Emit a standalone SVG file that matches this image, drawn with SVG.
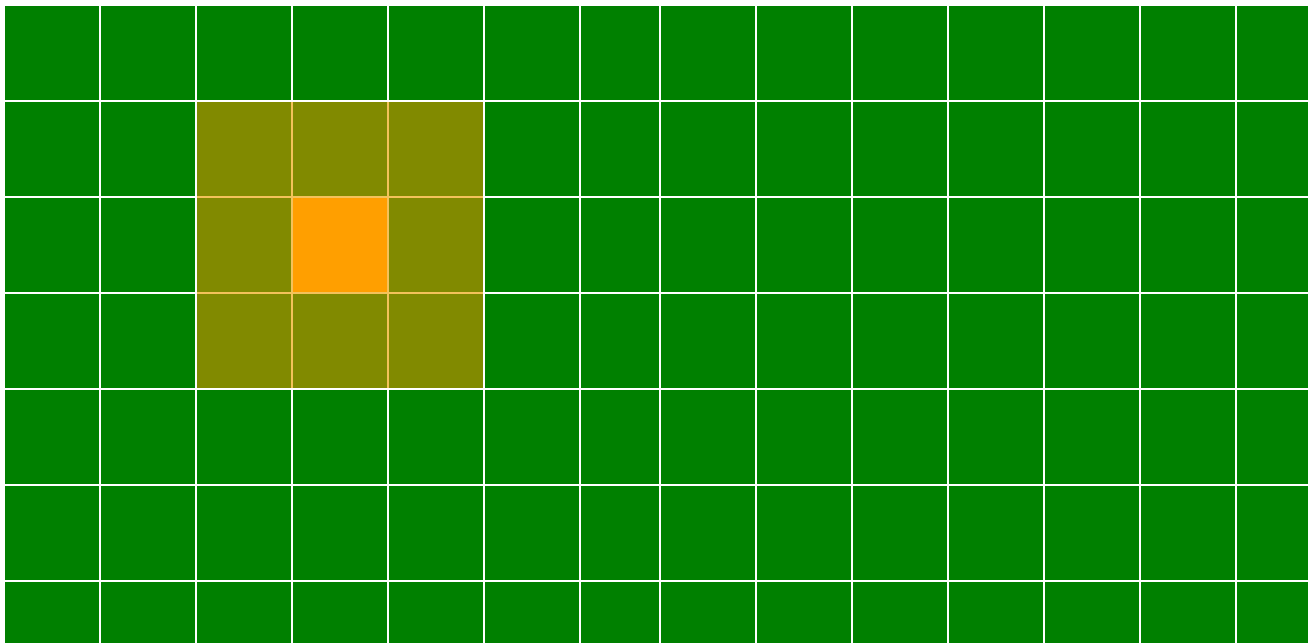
<svg xmlns="http://www.w3.org/2000/svg" xmlns:xlink="http://www.w3.org/1999/xlink" width="1308" height="643" viewBox="0 0 1308 643">
<style>
.c{fill:#008000}
.h{fill:#818a00}
.o{fill:#ff9f00}
.l{fill:#f4c25a}
</style>
<defs>
<g id="row">
<rect class="c" x="5" y="0" width="94" height="94"/>
<rect class="c" x="101" y="0" width="94" height="94"/>
<rect class="c" x="197" y="0" width="94" height="94"/>
<rect class="c" x="293" y="0" width="94" height="94"/>
<rect class="c" x="389" y="0" width="94" height="94"/>
<rect class="c" x="485" y="0" width="94" height="94"/>
<rect class="c" x="581" y="0" width="78" height="94"/>
<rect class="c" x="661" y="0" width="94" height="94"/>
<rect class="c" x="757" y="0" width="94" height="94"/>
<rect class="c" x="853" y="0" width="94" height="94"/>
<rect class="c" x="949" y="0" width="94" height="94"/>
<rect class="c" x="1045" y="0" width="94" height="94"/>
<rect class="c" x="1141" y="0" width="94" height="94"/>
<rect class="c" x="1237" y="0" width="94" height="94"/>
</g>
</defs>
<rect width="1308" height="643" fill="#ffffff"/>
<g id="grid">
<use xlink:href="#row" y="6"/>
<use xlink:href="#row" y="102"/>
<use xlink:href="#row" y="198"/>
<use xlink:href="#row" y="294"/>
<use xlink:href="#row" y="390"/>
<use xlink:href="#row" y="486"/>
<use xlink:href="#row" y="582"/>
</g>
<g id="highlight">
<rect class="h" x="197" y="102" width="286" height="286"/>
<rect class="l" x="291" y="102" width="2" height="286"/>
<rect class="l" x="387" y="102" width="2" height="286"/>
<rect class="l" x="197" y="196" width="286" height="2"/>
<rect class="l" x="197" y="292" width="286" height="2"/>
<rect id="center" class="o" x="293" y="198" width="94" height="94"/>
</g>
</svg>
